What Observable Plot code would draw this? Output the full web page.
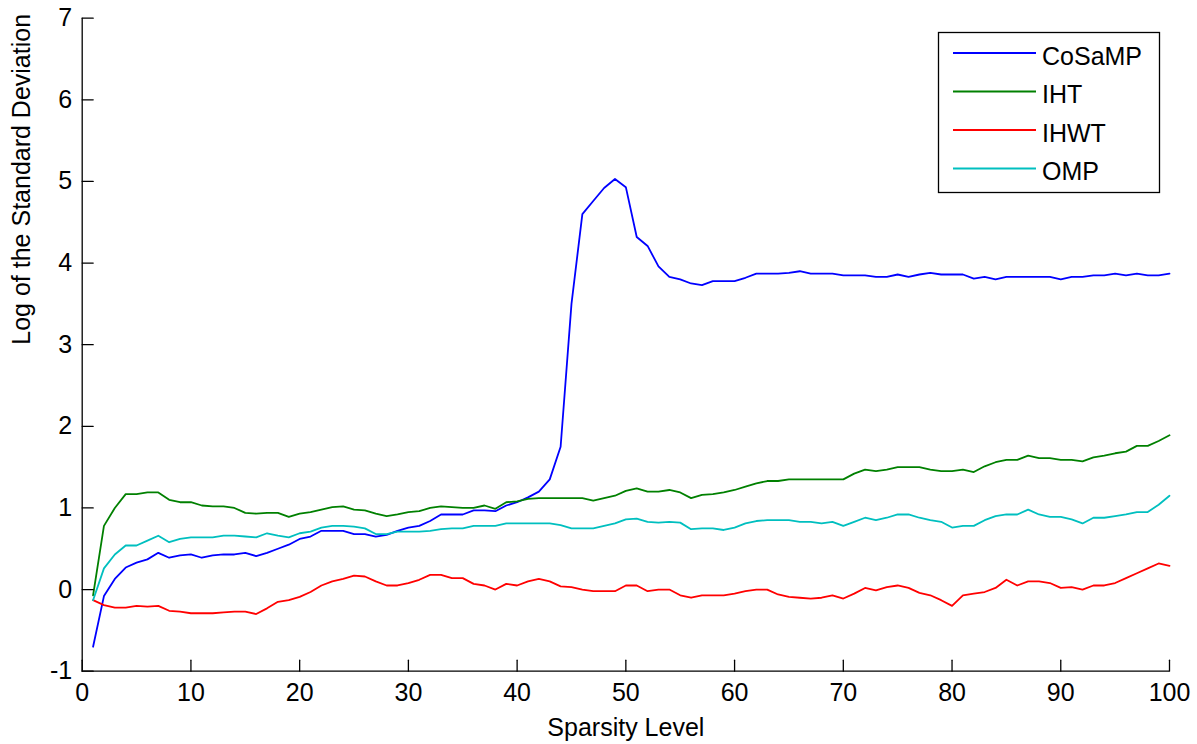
<!DOCTYPE html>
<html>
<head>
<meta charset="utf-8">
<script src="https://cdn.jsdelivr.net/npm/d3@7"></script>
<script src="https://cdn.jsdelivr.net/npm/@observablehq/plot@0.6"></script>
<style>
  html, body { margin: 0; padding: 0; background: #fff; overflow: hidden; }
  #wrap { position: relative; width: 1197px; height: 744px; }
  #legend { position: absolute; left: 0; top: 0; pointer-events: none; }
</style>
</head>
<body>
<div id="wrap"></div>
<script>
const seriesNames = ["CoSaMP", "IHT", "IHWT", "OMP"];
const seriesColors = ["#0000ff", "#008000", "#ff0000", "#00bfbf"];
const xTicks = [0, 10, 20, 30, 40, 50, 60, 70, 80, 90, 100];
const yTicks = [-1, 0, 1, 2, 3, 4, 5, 6, 7];
const sparsity = d3.range(1, 101);

const cosamp = [
 -0.70,-0.08,0.13,0.27,0.33,0.37,0.45,0.39,0.42,0.43,
 0.39,0.42,0.43,0.43,0.45,0.41,0.45,0.50,0.55,0.62,
 0.65,0.72,0.72,0.72,0.68,0.68,0.65,0.67,0.72,0.76,
 0.78,0.84,0.92,0.92,0.92,0.97,0.97,0.96,1.03,1.07,
 1.13,1.20,1.35,1.75,3.50,4.60,4.76,4.92,5.03,4.93,
 4.32,4.21,3.96,3.83,3.80,3.75,3.73,3.78,3.78,3.78,
 3.82,3.87,3.87,3.87,3.88,3.90,3.87,3.87,3.87,3.85,
 3.85,3.85,3.83,3.83,3.86,3.83,3.86,3.88,3.86,3.86,
 3.86,3.81,3.83,3.80,3.83,3.83,3.83,3.83,3.83,3.80,
 3.83,3.83,3.85,3.85,3.87,3.85,3.87,3.85,3.85,3.87
];
const iht = [
 -0.07,0.78,1.00,1.17,1.17,1.19,1.19,1.10,1.07,1.07,
 1.03,1.02,1.02,1.00,0.94,0.93,0.94,0.94,0.89,0.93,
 0.95,0.98,1.01,1.02,0.98,0.97,0.93,0.90,0.92,0.95,
 0.96,1.00,1.02,1.01,1.00,1.00,1.03,0.99,1.07,1.08,
 1.11,1.12,1.12,1.12,1.12,1.12,1.09,1.12,1.15,1.21,
 1.24,1.20,1.20,1.22,1.19,1.12,1.16,1.17,1.19,1.22,
 1.26,1.30,1.33,1.33,1.35,1.35,1.35,1.35,1.35,1.35,
 1.42,1.47,1.45,1.47,1.50,1.50,1.50,1.47,1.45,1.45,
 1.47,1.44,1.51,1.56,1.59,1.59,1.64,1.61,1.61,1.59,
 1.59,1.57,1.62,1.64,1.67,1.69,1.76,1.76,1.82,1.89
];
const ihwt = [
 -0.13,-0.19,-0.22,-0.22,-0.20,-0.21,-0.20,-0.26,-0.27,-0.29,
 -0.29,-0.29,-0.28,-0.27,-0.27,-0.30,-0.23,-0.15,-0.13,-0.09,
 -0.03,0.05,0.10,0.13,0.17,0.16,0.10,0.05,0.05,0.08,
 0.12,0.18,0.18,0.14,0.14,0.07,0.05,0.00,0.07,0.05,
 0.10,0.13,0.10,0.04,0.03,0.00,-0.02,-0.02,-0.02,0.05,
 0.05,-0.02,0.00,0.00,-0.07,-0.10,-0.07,-0.07,-0.07,-0.05,
 -0.02,0.00,0.00,-0.06,-0.09,-0.10,-0.11,-0.10,-0.07,-0.11,
 -0.05,0.02,-0.01,0.03,0.05,0.02,-0.04,-0.07,-0.13,-0.20,
 -0.07,-0.05,-0.03,0.02,0.12,0.05,0.10,0.10,0.08,0.02,
 0.03,0.00,0.05,0.05,0.08,0.14,0.20,0.26,0.32,0.29
];
const omp = [
 -0.13,0.26,0.43,0.54,0.54,0.60,0.66,0.58,0.62,0.64,
 0.64,0.64,0.66,0.66,0.65,0.64,0.69,0.66,0.64,0.69,
 0.71,0.76,0.78,0.78,0.77,0.75,0.68,0.68,0.71,0.71,
 0.71,0.72,0.74,0.75,0.75,0.78,0.78,0.78,0.81,0.81,
 0.81,0.81,0.81,0.79,0.75,0.75,0.75,0.78,0.81,0.86,
 0.87,0.83,0.82,0.83,0.82,0.74,0.75,0.75,0.73,0.76,
 0.81,0.84,0.85,0.85,0.85,0.83,0.83,0.81,0.83,0.78,
 0.83,0.88,0.85,0.88,0.92,0.92,0.88,0.85,0.83,0.76,
 0.78,0.78,0.85,0.90,0.92,0.92,0.98,0.92,0.89,0.89,
 0.86,0.81,0.88,0.88,0.90,0.92,0.95,0.95,1.04,1.15
];
const seriesValues = [cosamp, iht, ihwt, omp];

const rows = [];
seriesNames.forEach((name, j) => {
  sparsity.forEach((x, i) => rows.push({name, x, y: seriesValues[j][i]}));
});

const W = 1197, H = 744;
const mL = 81.7, mR = 28, mT = 17.7, mB = 73.3;
const font = "'Liberation Sans', Arial, Helvetica, sans-serif";

// plain straight tick shape for the vector mark (no arrow head)
const tickShape = {draw(context, l) { context.moveTo(0, 0); context.lineTo(0, -l); }};

const chart = Plot.plot({
  width: W, height: H,
  marginLeft: mL, marginRight: mR, marginTop: mT, marginBottom: mB,
  x: {domain: [0, 100]},
  y: {domain: [-1, 7]},
  color: {domain: seriesNames, range: seriesColors},
  style: {fontFamily: font, fontSize: "25px", color: "#000", background: "#fff"},
  marks: [
    Plot.axisX({ticks: xTicks, tickSize: 0, tickPadding: 12, tickFormat: d => String(d), label: null}),
    Plot.axisY({ticks: yTicks, tickSize: 0, tickPadding: 10, tickFormat: d => String(d), label: null}),
    Plot.lineY(rows, {x: "x", y: "y", z: "name", stroke: "name", strokeWidth: 1.8}),
    Plot.ruleY([-1], {stroke: "#000", strokeWidth: 1.3}),
    Plot.ruleX([0], {stroke: "#000", strokeWidth: 1.3}),
    Plot.vector(xTicks, {x: d => d, y: -1, length: 11, rotate: 0, anchor: "start", shape: tickShape, stroke: "#000", strokeWidth: 1.3}),
    Plot.vector(yTicks, {x: 0, y: d => d, length: 11, rotate: 90, anchor: "start", shape: tickShape, stroke: "#000", strokeWidth: 1.3}),
    Plot.text(["Sparsity Level"], {frameAnchor: "bottom", dy: 56.5, lineAnchor: "middle", text: d => d, fontSize: 25}),
    Plot.text(["Log of the Standard Deviation"], {frameAnchor: "left", dx: -59.7, rotate: -90, lineAnchor: "middle", text: d => d, fontSize: 25})
  ]
});

const wrap = document.getElementById("wrap");
wrap.appendChild(chart);

// Legend overlay (top-right box)
const lg = d3.select(wrap).append("svg")
  .attr("id", "legend")
  .attr("width", W).attr("height", H);
lg.append("rect")
  .attr("x", 938.5).attr("y", 32.5).attr("width", 221).attr("height", 160)
  .attr("fill", "#fff").attr("stroke", "#000").attr("stroke-width", 1.3);
seriesNames.forEach((name, i) => {
  const cy = 53 + i * 38.5;
  lg.append("line")
    .attr("x1", 953).attr("x2", 1036).attr("y1", cy).attr("y2", cy)
    .attr("stroke", seriesColors[i]).attr("stroke-width", 1.8);
  lg.append("text")
    .attr("x", 1042).attr("y", cy + 11.5)
    .attr("font-family", font).attr("font-size", 25).attr("fill", "#000")
    .text(name);
});
</script>
</body>
</html>
